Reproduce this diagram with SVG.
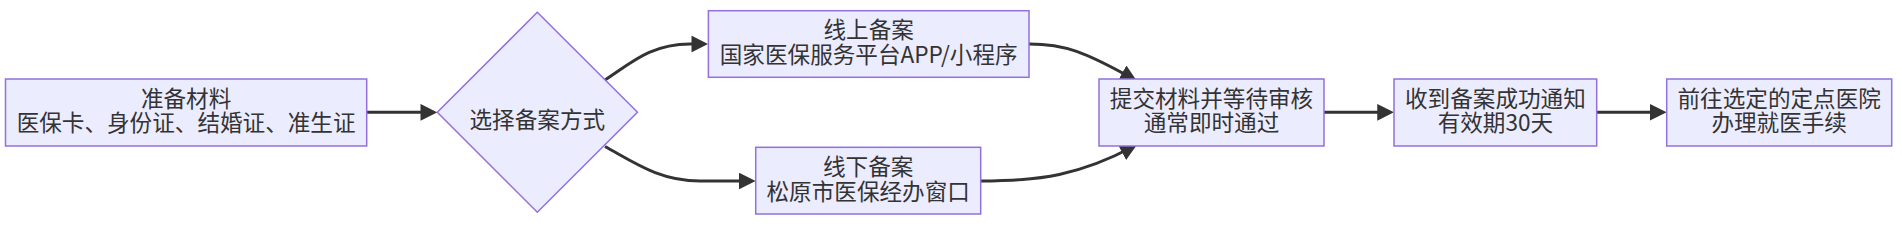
<svg xmlns="http://www.w3.org/2000/svg" width="1902" height="232" viewBox="0 0 1902 232">
<style>
.node rect, .node polygon { fill: #ECECFF; stroke: #9370DB; stroke-width: 1.5; }
.node text { font-family: "Noto Sans CJK SC", "Noto Sans", sans-serif; font-size: 22.6px; fill: #333333; text-anchor: middle; }
.edge { fill: none; stroke: #333333; stroke-width: 3; }
</style>
<defs>
<marker id="arrow" viewBox="0 0 10 10" refX="7.65" refY="5" markerUnits="userSpaceOnUse" markerWidth="17" markerHeight="16.7" orient="auto">
<path d="M0,0 L10,5 L0,10 z" fill="#333333"/>
</marker>
</defs>
<rect width="1902" height="232" fill="#ffffff"/>
<g id="connectors">
<path class="edge" d="M366.7,112.3 L433.3,112.3" marker-end="url(#arrow)"/>
<path class="edge" d="M605,80 C630,64 650,44 690,44 L704.3,44" marker-end="url(#arrow)"/>
<path class="edge" d="M605,146.5 C635,163 660,181 700,181 L751.7,181" marker-end="url(#arrow)"/>
<path class="edge" d="M1029,44 C1065,44 1085,52 1133.5,79" marker-end="url(#arrow)"/>
<path class="edge" d="M980.7,181 C1040,181 1080,175 1133.5,146.5" marker-end="url(#arrow)"/>
<path class="edge" d="M1324,112.3 L1390,112.3" marker-end="url(#arrow)"/>
<path class="edge" d="M1596.7,112.3 L1662.7,112.3" marker-end="url(#arrow)"/>
</g>
<g id="node-prepare" class="node">
<rect x="5.5" y="79" width="361.2" height="67"/>
<text x="186.1" y="106.8">准备材料</text>
<text x="186.1" y="131.3">医保卡、身份证、结婚证、准生证</text>
</g>
<g id="node-choose" class="node">
<polygon points="537.3,12.3 637.5,112.3 537.3,212.3 437.3,112.3"/>
<text x="537.3" y="127.7">选择备案方式</text>
</g>
<g id="node-online" class="node">
<rect x="708.4" y="10.7" width="320.6" height="66.6"/>
<text x="868.7" y="38.4">线上备案</text>
<text x="868.7" y="62.8">国家医保服务平台APP/小程序</text>
</g>
<g id="node-offline" class="node">
<rect x="755.7" y="147.3" width="225" height="66.7"/>
<text x="868.2" y="175.1">线下备案</text>
<text x="868.2" y="199.5">松原市医保经办窗口</text>
</g>
<g id="node-submit" class="node">
<rect x="1099" y="79" width="225" height="67"/>
<text x="1211.5" y="106.8">提交材料并等待审核</text>
<text x="1211.5" y="131.3">通常即时通过</text>
</g>
<g id="node-receive" class="node">
<rect x="1394" y="79" width="202.7" height="67"/>
<text x="1495.4" y="106.8">收到备案成功通知</text>
<text x="1495.4" y="131.3">有效期30天</text>
</g>
<g id="node-goto" class="node">
<rect x="1666.7" y="79" width="225" height="67"/>
<text x="1779.2" y="106.8">前往选定的定点医院</text>
<text x="1779.2" y="131.3">办理就医手续</text>
</g>
</svg>
